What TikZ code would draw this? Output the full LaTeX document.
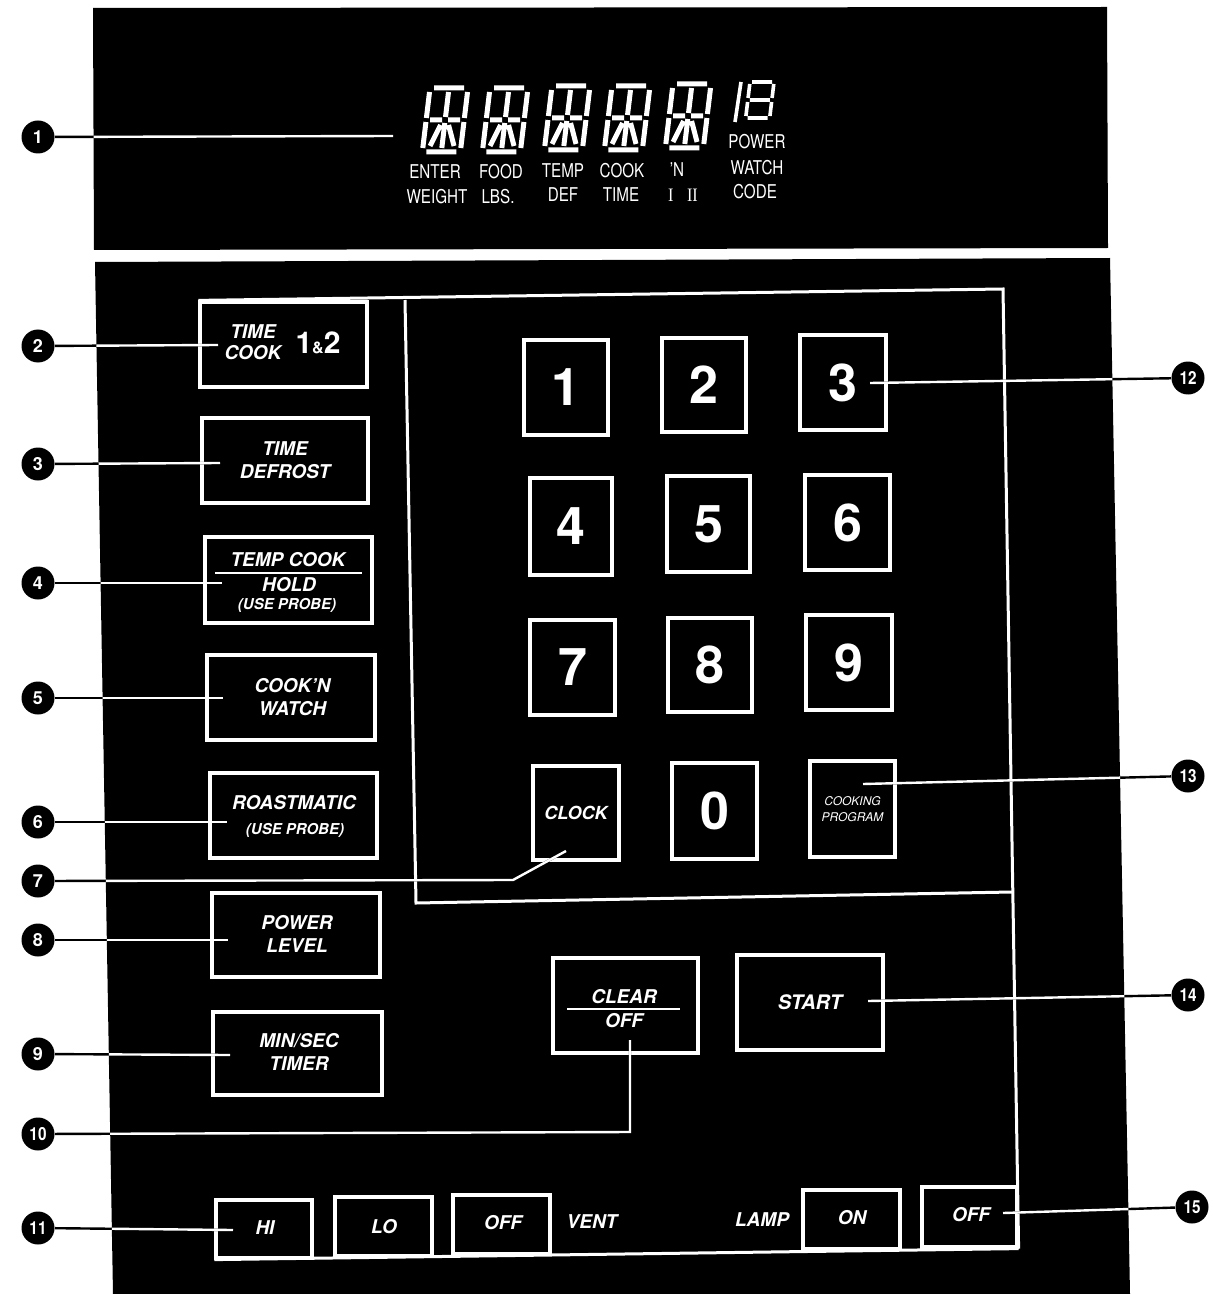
\documentclass[tikz,border=0pt]{standalone}
\usepackage{fontspec}
\setmainfont{TeX Gyre Heros}
\newfontfamily\serifnum{Liberation Serif}
\newcommand\lcdglyph[2]{%
  \begin{scope}[shift={(#1,#2)}, xslant=0.12]
    \draw[seg] (4,0)--(34,0) (4,64)--(34,64) (0,4)--(0,30) (0,34)--(0,60)
      (38,4)--(38,30) (38,34)--(38,60) (4,32)--(16,32) (22,32)--(34,32)
      (19,4)--(19,29) (19,35)--(19,60) (15,37)--(7,58) (23,37)--(31,58);
  \end{scope}}
\begin{document}
\begin{tikzpicture}[x=0.5pt,y=-0.5pt,
  seg/.style={white, line width=2.5pt, line cap=butt},
  frameline/.style={white, line width=1.5pt},
  btn/.style={draw=white, line width=1.6pt, inner sep=0pt, rectangle},
  keybox/.style={draw=white, line width=1.6pt, inner sep=0pt, rectangle, text=white,
    font=\fontsize{26}{26}\selectfont\bfseries},
  lbl/.style={text=white, inner sep=0pt, align=center,
    font=\fontsize{9.5}{11.8}\selectfont\bfseries\itshape},
  small/.style={text=white, inner sep=0pt, align=center,
    font=\fontsize{7.5}{8}\selectfont\bfseries\itshape},
  lcdlbl/.style={text=white, inner sep=0pt, font=\fontsize{9.5}{10}\selectfont},
  callnum/.style={circle, fill=black, text=white, minimum size=16.5pt, inner sep=0pt,
    font=\fontsize{9}{9}\selectfont\bfseries},
  callout/.style={black, line width=1.2pt},
  calloutw/.style={white, line width=1.2pt},
  rulew/.style={white, line width=0.7pt}]
\useasboundingbox (0,0) rectangle (1212,1294);
\fill[white] (0,0) rectangle (1212,1294);
% panels
\fill[black] (93,8) -- (1107,7) -- (1108,248) -- (94,250) -- cycle;
\fill[black] (95,262) -- (1110,258) -- (1130,1294) -- (113,1294) -- cycle;

% display glyphs
\lcdglyph{430}{88}
\lcdglyph{490}{88}
\lcdglyph{552}{86}
\lcdglyph{612}{86}
\lcdglyph{673}{84}
\draw[white, line width=1.8pt] (741,82) -- (735,122);
\begin{scope}[shift={(750,82)}, xslant=0.12]
  \draw[white, line width=1.8pt, line cap=butt] (2,0)--(22,0) (0,2)--(0,16) (24,2)--(24,16)
    (2,18)--(22,18) (0,20)--(0,34) (24,20)--(24,34) (2,36)--(22,36);
\end{scope}

% display labels
\node[lcdlbl] (dEnter) at (435,172) {\scalebox{0.8}[1]{ENTER}};
\node[lcdlbl] (dWeight) at (437,197) {\scalebox{0.8}[1]{WEIGHT}};
\node[lcdlbl] (dFood) at (501,172) {\scalebox{0.8}[1]{FOOD}};
\node[lcdlbl] (dLbs) at (498,197) {\scalebox{0.8}[1]{LBS.}};
\node[lcdlbl] (dTemp) at (563,171) {\scalebox{0.8}[1]{TEMP}};
\node[lcdlbl] (dDef) at (563,195) {\scalebox{0.8}[1]{DEF}};
\node[lcdlbl] (dCook) at (622,171) {\scalebox{0.8}[1]{COOK}};
\node[lcdlbl] (dTime) at (621,195) {\scalebox{0.8}[1]{TIME}};
\node[lcdlbl] (dN) at (677,170) {\scalebox{0.8}[1]{'N}};
\node[lcdlbl] (dI) at (683,195) {\serifnum\scalebox{0.85}[1]{I\hspace{8pt}II}};
\node[lcdlbl] (dPower) at (757,142) {\scalebox{0.8}[1]{POWER}};
\node[lcdlbl] (dWatch) at (757,168) {\scalebox{0.8}[1]{WATCH}};
\node[lcdlbl] (dCode) at (755,192) {\scalebox{0.8}[1]{CODE}};

% left buttons
\node[btn, minimum width=83.5pt, minimum height=42.5pt] (b2) at (283.5,344.5) {};
\node[lbl, font=\fontsize{9.5}{10.5}\selectfont\bfseries\itshape] (n2) at (253,342) {TIME\\COOK};
\node[text=white, inner sep=0pt, font=\fontsize{15}{15}\selectfont\bfseries] (n2b) at (318,343)
  {1{\fontsize{8}{8}\selectfont\&}2};
\node[btn, minimum width=83pt, minimum height=42.5pt] (b3) at (285,460.5) {};
\node[lbl] (n3) at (285,460) {TIME\\DEFROST};
\node[btn, minimum width=83.5pt, minimum height=43pt] (b4) at (288.5,580) {};
\node[lbl] (n4a) at (288,560) {TEMP COOK};
\coordinate (r4a) at (215,573);
\coordinate (r4b) at (362,573);
\draw[rulew] (r4a) -- (r4b);
\node[lbl] (n4b) at (289,585) {HOLD};
\node[small] (n4c) at (287,605) {(USE PROBE)};
\node[btn, minimum width=84pt, minimum height=42.5pt] (b5) at (291,697.5) {};
\node[lbl] (n5) at (292.5,697) {COOK'N\\WATCH};
\node[btn, minimum width=83.5pt, minimum height=42.5pt] (b6) at (293.5,815.5) {};
\node[lbl] (n6a) at (294,803) {ROASTMATIC};
\node[small] (n6b) at (295,830) {(USE PROBE)};
\node[btn, minimum width=84pt, minimum height=42pt] (b8) at (296,935) {};
\node[lbl] (n8) at (297,934) {POWER\\LEVEL};
\node[btn, minimum width=84.5pt, minimum height=41.5pt] (b9) at (297.5,1053.5) {};
\node[lbl] (n9) at (299,1052) {MIN/SEC\\TIMER};

% keypad
\node[keybox, minimum width=42pt, minimum height=47.5pt] (k1) at (566,387.5) {1};
\node[keybox, minimum width=42pt, minimum height=47pt] (k2) at (704,385) {2};
\node[keybox, minimum width=43pt, minimum height=47.5pt] (k3) at (843,382.5) {3};
\node[keybox, minimum width=41pt, minimum height=48.5pt] (k4) at (571,526.5) {4};
\node[keybox, minimum width=41.5pt, minimum height=48pt] (k5) at (708.5,524) {5};
\node[keybox, minimum width=42.5pt, minimum height=47.5pt] (k6) at (847.5,522.5) {6};
\node[keybox, minimum width=42.5pt, minimum height=47.5pt] (k7) at (572.5,667.5) {7};
\node[keybox, minimum width=42pt, minimum height=47pt] (k8) at (710,665) {8};
\node[keybox, minimum width=43pt, minimum height=47.5pt] (k9) at (849,662.5) {9};
\node[keybox, minimum width=43pt, minimum height=47pt,
  font=\fontsize{9}{9}\selectfont\bfseries\itshape] (kclock) at (576,813) {CLOCK};
\node[keybox, minimum width=42.5pt, minimum height=48pt] (k0) at (714.5,811) {0};
\node[keybox, minimum width=42.5pt, minimum height=48pt, align=center,
  font=\fontsize{6}{8}\selectfont\itshape] (kcp) at (852.5,809) {COOKING\\PROGRAM};

% clear / start
\node[btn, minimum width=72.5pt, minimum height=47.5pt] (bclear) at (625.5,1005.5) {};
\node[lbl] (nclear) at (624,997) {CLEAR};
\coordinate (rca) at (567,1009);
\coordinate (rcb) at (680,1009);
\draw[rulew] (rca) -- (rcb);
\node[lbl] (noff) at (624,1021) {OFF};
\node[btn, minimum width=73pt, minimum height=47.5pt, text=white,
  font=\fontsize{10}{10}\selectfont\bfseries\itshape] (bstart) at (810,1002.5) {START};

% bottom row
\node[btn, minimum width=48pt, minimum height=29pt] (bhi) at (264,1229) {};
\node[lbl] (nhi) at (265,1228) {HI};
\node[btn, minimum width=48.5pt, minimum height=29.5pt] (blo) at (383.5,1226.5) {};
\node[lbl] (nlo) at (384,1227) {LO};
\node[btn, minimum width=48.5pt, minimum height=29.5pt] (bvoff) at (501.5,1224.5) {};
\node[lbl] (nvoff) at (503,1223) {OFF};
\node[lbl] (nvent) at (592,1222) {VENT};
\node[lbl] (nlamp) at (762,1220) {LAMP};
\node[btn, minimum width=48.5pt, minimum height=29.5pt] (bon) at (851.5,1219.5) {};
\node[lbl] (non) at (852,1218) {ON};
\node[btn, minimum width=47.5pt, minimum height=30pt] (bloff) at (969.5,1217) {};
\node[lbl] (nloff) at (971,1215) {OFF};

% frame lines
\coordinate (fTL) at (405,300);
\coordinate (fTR) at (1003,289);
\coordinate (fBR) at (1012,892);
\coordinate (fBL) at (416,903);
\draw[frameline] (b2.north west) -- (fTR) -- (bloff.south east);
\draw[frameline] (fTL) -- (fBL) -- (fBR);
\draw[frameline] (bhi.south west) -- (bloff.south east);

% callout circles
\node[callnum] (c1) at (38,137) {1};
\node[callnum] (c2) at (38,346) {2};
\node[callnum] (c3) at (38,464) {3};
\node[callnum] (c4) at (38,583) {4};
\node[callnum] (c5) at (38,698) {5};
\node[callnum] (c6) at (38,822) {6};
\node[callnum] (c7) at (38,881) {7};
\node[callnum] (c8) at (38,940) {8};
\node[callnum] (c9) at (38,1054) {9};
\node[callnum] (c10) at (38,1134) {\scalebox{0.85}[1]{10}};
\node[callnum] (c11) at (38,1228) {\scalebox{0.85}[1]{11}};
\node[callnum] (c12) at (1188,378) {\scalebox{0.85}[1]{12}};
\node[callnum] (c13) at (1188,776) {\scalebox{0.85}[1]{13}};
\node[callnum] (c14) at (1188,995) {\scalebox{0.85}[1]{14}};
\node[callnum] (c15) at (1192,1207) {\scalebox{0.85}[1]{15}};

% callout targets
\coordinate (t1) at (393,136);
\coordinate (t2) at (218,345);
\coordinate (t3) at (220,463);
\coordinate (t4) at (222,583);
\coordinate (t5) at (223,698);
\coordinate (t6) at (227,822);
\coordinate (t7a) at (513,880);
\coordinate (t7) at (566,851);
\coordinate (t8) at (228,940);
\coordinate (t9) at (230,1055);
\coordinate (t10a) at (630,1132);
\coordinate (t10) at (630,1040);
\coordinate (t11) at (233,1230);
\coordinate (t12) at (870,383);
\coordinate (t13) at (863,784);
\coordinate (t14) at (868,1001);
\coordinate (t15) at (1003,1213);

\foreach \s in {callout} {
  \draw[\s] (c1) -- (t1);  \draw[\s] (c2) -- (t2);  \draw[\s] (c3) -- (t3);
  \draw[\s] (c4) -- (t4);  \draw[\s] (c5) -- (t5);  \draw[\s] (c6) -- (t6);
  \draw[\s] (c7) -- (t7a) -- (t7);  \draw[\s] (c8) -- (t8);  \draw[\s] (c9) -- (t9);
  \draw[\s] (c10) -- (t10a) -- (t10);  \draw[\s] (c11) -- (t11);
  \draw[\s] (c12) -- (t12);  \draw[\s] (c13) -- (t13);  \draw[\s] (c14) -- (t14);
  \draw[\s] (c15) -- (t15);
}
\begin{scope}
  \clip (93,8) -- (1107,7) -- (1108,248) -- (94,250) -- cycle
        (95,262) -- (1110,258) -- (1130,1294) -- (113,1294) -- cycle;
  \draw[calloutw] (c1) -- (t1);  \draw[calloutw] (c2) -- (t2);  \draw[calloutw] (c3) -- (t3);
  \draw[calloutw] (c4) -- (t4);  \draw[calloutw] (c5) -- (t5);  \draw[calloutw] (c6) -- (t6);
  \draw[calloutw] (c7) -- (t7a) -- (t7);  \draw[calloutw] (c8) -- (t8);  \draw[calloutw] (c9) -- (t9);
  \draw[calloutw] (c10) -- (t10a) -- (t10);  \draw[calloutw] (c11) -- (t11);
  \draw[calloutw] (c12) -- (t12);  \draw[calloutw] (c13) -- (t13);  \draw[calloutw] (c14) -- (t14);
  \draw[calloutw] (c15) -- (t15);
\end{scope}
\end{tikzpicture}
\end{document}
